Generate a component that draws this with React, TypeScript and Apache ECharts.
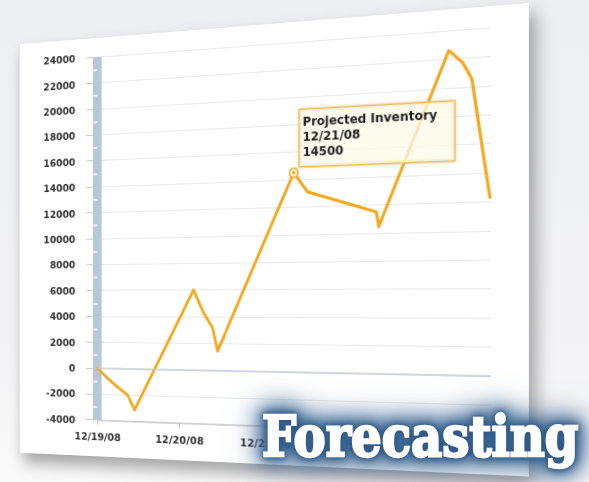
import React, { useEffect, useRef } from 'react';
import * as echarts from 'echarts';

// ---- data ----
const dateLabels = ['12/19/08', '12/20/08', '12/21/08', '12/22/08', '12/23/08'];
// position along the time axis, in days since 12/19/08
const pointDays = [0, 0.125, 0.249, 0.373, 0.459, 1.169, 1.288, 1.393, 1.451, 2.319, 2.474, 3.22, 3.245, 3.975, 4.118, 4.209, 4.39];
const pointValues = [0, -750, -1420, -2010, -3140, 6000, 4280, 3160, 1450, 14500, 13070, 11490, 10450, 22600, 21680, 20530, 12300];
const yMin = -4000;
const yMax = 24000;
const yStep = 2000;
const xMax = 4.4;
const seriesName = 'Projected Inventory';
const tipIndex = 9;
const bannerText = 'Forecasting';

const LINE = '#f4a81d';
const LABEL_FONT = 'DejaVu Sans';

export default function App() {
  const chartRef = useRef<HTMLDivElement>(null);
  const overlayRef = useRef<HTMLDivElement>(null);

  useEffect(() => {
    const chart = echarts.init(chartRef.current!, null, { renderer: 'svg' });
    const overlay = echarts.init(overlayRef.current!, null, { renderer: 'svg' });

    const data = pointDays.map((d, i) => [d, pointValues[i]]);
    const tipCoord = [pointDays[tipIndex], pointValues[tipIndex]];
    const tipText = `{t|${seriesName}}\n{d|${dateLabels[Math.floor(pointDays[tipIndex])]}}\n{d|${pointValues[tipIndex]}}`;

    const labelStyle = {
      fontFamily: LABEL_FONT,
      fontWeight: 'bold' as const,
      fontSize: 11,
      color: '#333333',
    };

    chart.setOption({
      animation: false,
      grid: { left: 93.2, right: 35, top: 20, bottom: 38.4, containLabel: false },
      xAxis: {
        type: 'value',
        min: 0,
        max: xMax,
        interval: 1,
        axisLine: { show: true, onZero: false, lineStyle: { color: '#c8c8c8', width: 1.5 } },
        axisTick: { show: true, length: 5, lineStyle: { color: '#b8b8b8' } },
        axisLabel: {
          ...labelStyle,
          margin: 12,
          showMaxLabel: false,
          formatter: (v: number) => (Number.isInteger(v) ? dateLabels[v] ?? '' : ''),
        },
        splitLine: { show: false },
      },
      yAxis: [
        {
          type: 'value',
          min: yMin,
          max: yMax,
          interval: yStep,
          offset: 5,
          axisLine: { show: true, lineStyle: { color: '#b7c7da', width: 10, cap: 'butt' } },
          axisTick: { show: true, length: 13, lineStyle: { color: '#c6c6c6' } },
          axisLabel: { ...labelStyle, margin: 21, formatter: (v: number) => String(v) },
          splitLine: { show: true, lineStyle: { color: '#e8e8e8', width: 1.2 } },
        },
        {
          type: 'value',
          position: 'left',
          min: yMin,
          max: yMax,
          interval: yStep,
          offset: 10,
          axisLine: { show: false },
          axisTick: { show: false, inside: true },
          axisLabel: { show: false },
          splitLine: { show: false },
          minorTick: { show: true, splitNumber: 2, length: 10, lineStyle: { color: '#ffffff', width: 1.5 } },
        },
      ],
      series: [
        {
          type: 'line',
          name: seriesName,
          data,
          yAxisIndex: 0,
          showSymbol: false,
          lineStyle: { color: LINE, width: 3, cap: 'round', join: 'round' },
          markLine: {
            silent: true,
            symbol: ['none', 'none'],
            label: { show: false },
            lineStyle: { color: '#c3ccd8', width: 1.6, type: 'solid' },
            data: [{ yAxis: 0 }],
          },
          markPoint: {
            silent: true,
            data: [
              {
                coord: tipCoord,
                symbol: 'circle',
                symbolSize: 9,
                itemStyle: { color: '#fff7e6', borderColor: LINE, borderWidth: 1.5 },
                label: {
                  show: true,
                  position: [11.5, -57],
                  align: 'left',
                  verticalAlign: 'top',
                  formatter: tipText,
                  backgroundColor: 'rgba(255,253,240,0.72)',
                  borderColor: '#e9c06a',
                  borderWidth: 1.5,
                  padding: [5, 16, 6, 3],
                  shadowBlur: 4,
                  shadowColor: 'rgba(200,160,60,0.25)',
                  rich: {
                    t: { fontFamily: LABEL_FONT, fontWeight: 'bold', fontSize: 12, color: '#1e1e1e', lineHeight: 15 },
                    d: { fontFamily: LABEL_FONT, fontWeight: 'bold', fontSize: 12, color: '#1e1e1e', lineHeight: 15 },
                  },
                },
              },
              {
                coord: tipCoord,
                symbol: 'circle',
                symbolSize: 3,
                itemStyle: { color: '#e39a10' },
                label: { show: false },
              },
            ],
          },
        },
      ],
    });

    overlay.setOption({
      animation: false,
      graphic: [
        {
          type: 'text',
          x: 262,
          y: 436,
          scaleX: 0.86,
          silent: true,
          style: {
            text: bannerText,
            x: 0,
            y: 0,
            fontFamily: 'DejaVu Serif',
            fontWeight: 'bold',
            fontSize: 56,
            textAlign: 'left',
            textVerticalAlign: 'middle',
            fill: '#ffffff',
            stroke: '#ffffff',
            lineWidth: 2.5,
          },
        },
      ],
    });

    return () => {
      chart.dispose();
      overlay.dispose();
    };
  }, []);

  return (
    <div
      style={{
        position: 'fixed',
        left: 0,
        top: 0,
        width: 589,
        height: 482,
        overflow: 'hidden',
        background: 'linear-gradient(180deg, #eeeff2 0%, #f3f3f5 70%, #fafafa 100%)',
      }}
    >
      <div
        ref={chartRef}
        style={{
          position: 'absolute',
          left: -15.6,
          top: 23,
          width: 538,
          height: 442,
          background: '#ffffff',
          borderLeft: '1px solid #d0d0d0',
          boxShadow: '6px 10px 16px rgba(0,0,0,0.35)',
          transformOrigin: '298px 280px',
          transform: 'perspective(1058px) rotateY(-17deg)',
        }}
      />
      <div
        ref={overlayRef}
        style={{
          position: 'absolute',
          left: 0,
          top: 0,
          width: 589,
          height: 482,
          pointerEvents: 'none',
          filter:
            'drop-shadow(0 0 2px #2f5a88) drop-shadow(0 0 5px #2f5a88) drop-shadow(0 0 10px #33608f) drop-shadow(0 0 14px rgba(60,100,145,0.8))',
        }}
      />
    </div>
  );
}
